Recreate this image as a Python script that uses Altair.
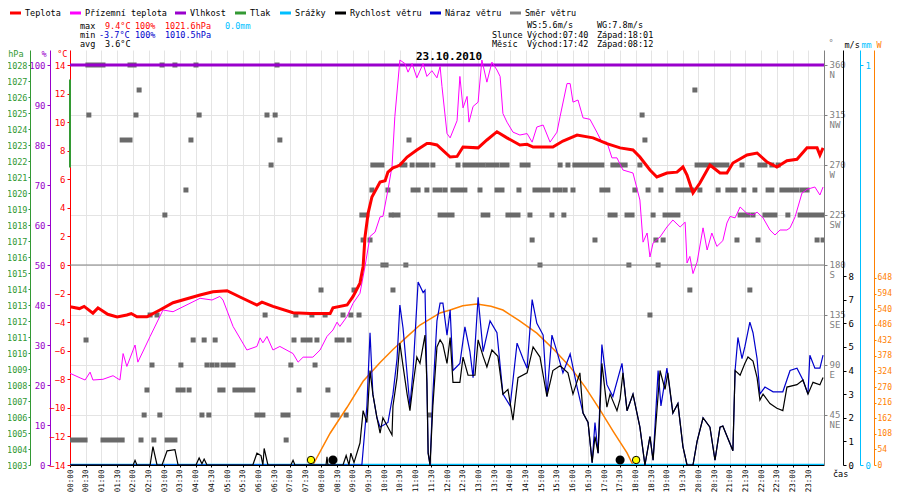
import altair as alt
import pandas as pd

# ---------------- data ----------------
# Temperature (deg C)
temp_h = [0.00, 0.30, 0.45, 0.73, 0.89, 1.20, 1.50, 1.81, 1.95, 2.13, 2.45, 2.86, 3.28, 4.14, 4.55, 5.00,
          5.41, 5.95, 6.11, 6.46, 7.10, 7.64, 8.28, 8.37, 8.82, 9.01, 9.23, 9.33, 9.39, 9.49, 9.61,
          9.87, 10.03, 10.12, 10.28, 10.41, 10.50, 10.73, 11.04, 11.36, 11.46, 11.68, 12.10, 12.32,
          12.51, 12.99, 13.27, 13.59, 13.91, 14.32, 14.55, 14.74, 15.37, 15.69, 16.14, 16.65, 17.09,
          17.51, 17.92, 18.14, 18.46, 18.68, 19.00, 19.32, 19.51, 19.64, 19.83, 20.05, 20.37, 20.69,
          20.91, 21.10, 21.55, 21.87, 22.19, 22.50, 22.82, 23.14, 23.46, 23.78, 23.87, 23.97]
temp_c = [-2.92, -3.05, -2.9, -3.37, -3.0, -3.45, -3.63, -3.5, -3.4, -3.63, -3.63, -3.15, -2.64, -2.1,
          -1.87, -1.8, -2.24, -2.8, -2.6, -2.9, -3.34, -3.4, -3.4, -3.0, -2.8, -2.2, -1.27, -0.1, 1.96,
          3.63, 4.76, 5.8, 5.9, 6.5, 6.8, 6.9, 7.0, 7.56, 8.05, 8.5, 8.5, 8.4, 7.56, 7.6,
          8.26, 8.2, 8.75, 9.33, 8.9, 8.4, 8.45, 8.26, 8.26, 8.68, 9.1, 8.9, 8.5,
          8.2, 8.05, 7.56, 6.65, 6.16, 6.44, 6.5, 6.86, 6.3, 5.04, 5.74, 7.0, 6.44,
          6.44, 7.14, 7.7, 7.84, 7.21, 6.86, 7.3, 7.4, 8.2, 8.2, 7.7, 8.2]

# Apparent (feels-like) temperature (deg C)
feel_h = [0.00, 0.32, 0.48, 0.64, 0.73, 1.05, 1.37, 1.59, 1.69, 1.81, 2.07, 2.16, 2.55, 2.96, 3.28,
          3.82, 4.14, 4.52, 4.77, 4.87, 5.19, 5.63, 5.95, 6.05, 6.14, 6.27, 6.46, 6.68, 7.10, 7.26,
          7.42, 7.73, 7.96, 8.18, 8.37, 8.50, 8.59, 8.82, 9.01, 9.23, 9.39, 9.55, 9.71, 9.87, 9.96,
          10.12, 10.25, 10.34, 10.50, 10.66, 10.76, 10.89, 11.04, 11.24, 11.36, 11.52, 11.68, 11.78,
          11.84, 12.00, 12.10, 12.32, 12.41, 12.51, 12.64, 12.70, 12.83, 12.99, 13.11, 13.27, 13.43,
          13.59, 13.69, 13.78, 13.91, 14.10, 14.32, 14.55, 14.71, 14.86, 15.06, 15.28, 15.50, 15.60,
          15.82, 15.92, 16.01, 16.17, 16.33, 16.55, 16.77, 16.93, 17.09, 17.25, 17.41, 17.60, 17.92,
          18.14, 18.24, 18.37, 18.46, 18.56, 18.78, 19.00, 19.19, 19.42, 19.58, 19.64, 19.73, 19.83,
          19.96, 20.15, 20.28, 20.43, 20.59, 20.78, 20.91, 21.01, 21.17, 21.33, 21.55, 21.74, 21.87,
          22.06, 22.28, 22.44, 22.60, 22.82, 22.92, 23.08, 23.30, 23.46, 23.71, 23.87, 23.97]
feel_c = [-7.58, -7.9, -8.05, -7.5, -8.05, -8.0, -7.75, -8.05, -6.2, -7.1, -5.6, -6.8, -5.0, -3.15, -3.27,
          -2.68, -2.33, -2.45, -2.2, -2.45, -4.3, -5.95, -5.7, -5.1, -5.45, -5.0, -5.95, -5.7, -6.2, -6.8,
          -6.45, -6.45, -5.95, -5.0, -4.55, -4.0, -4.3, -3.6, -2.68, -1.98, -0.1, 2.0, 2.3, 3.37, 3.4,
          5.25, 6.9, 10.4, 14.35, 14.1, 13.5, 14.1, 13.1, 14.1, 13.2, 13.6, 13.1, 13.9,
          12.5, 9.2, 8.9, 10.1, 13.2, 11.0, 11.8, 10.0, 11.1, 11.4, 14.35, 12.8, 14.2,
          13.65, 13.2, 10.6, 10.0, 9.3, 9.1, 9.2, 8.6, 9.66, 9.8, 8.6, 9.3, 10.4,
          12.7, 12.7, 11.4, 11.55, 10.3, 10.2, 9.3, 8.6, 8.6, 7.5, 7.5, 6.65, 6.44,
          4.55, 1.6, 2.24, 0.56, 1.54, 1.96, 2.66, 3.15, 2.66, 3.0, 0.14, 0.6, -0.6,
          0.2, 2.6, 1.05, 2.24, 1.3, 1.7, 2.94, 3.4, 3.3, 4.06, 3.6, 3.5, 3.7,
          3.3, 2.45, 2.1, 2.45, 2.45, 2.6, 3.37, 5.04, 5.3, 5.46, 4.9, 5.46]

# Relative humidity (%)
hum_h = [0.0, 24.0]
hum_v = [100, 100]

# Pressure trace visible on the left edge (hPa)
press_h = [0.0]
press_lo = [1021.6]
press_hi = [1027.1]

# Precipitation (mm)
rain_h = [0.0, 24.0]
rain_mm = [0.0, 0.0]

# Wind speed (m/s)
ws_h = [0.00, 2.01, 2.07, 2.13, 2.55, 2.64, 2.77, 2.93, 3.09, 3.34, 3.44, 4.01, 4.11, 4.20, 4.27, 4.36,
        5.82, 5.95, 6.08, 6.14, 6.18, 6.30, 7.03, 7.10, 7.16, 8.15, 8.18, 8.21, 8.69, 8.79, 8.88, 8.94,
        9.04, 9.23, 9.33, 9.45, 9.55, 9.64, 9.77, 9.87, 9.96, 10.12, 10.25, 10.28, 10.41, 10.50, 10.60,
        10.73, 10.82, 10.92, 11.04, 11.14, 11.30, 11.36, 11.40, 11.46, 11.55, 11.68, 11.78, 11.87, 12.00,
        12.10, 12.19, 12.41, 12.51, 12.67, 12.89, 12.99, 13.15, 13.27, 13.43, 13.62, 13.78, 13.94, 14.10,
        14.26, 14.55, 14.74, 14.96, 15.18, 15.37, 15.60, 15.85, 16.01, 16.23, 16.33, 16.49, 16.62, 16.71,
        16.81, 16.93, 17.09, 17.19, 17.41, 17.51, 17.60, 17.73, 17.92, 18.14, 18.30, 18.46, 18.56, 18.78,
        18.94, 19.03, 19.19, 19.35, 19.51, 19.64, 19.83, 19.96, 20.15, 20.37, 20.53, 20.69, 20.78, 21.01,
        21.10, 21.17, 21.33, 21.48, 21.58, 21.74, 21.87, 21.96, 22.06, 22.28, 22.50, 22.69, 22.82, 23.14,
        23.33, 23.49, 23.65, 23.87, 23.97]
ws_v = [0, 0, 0.2, 0, 0, 0.78, 0, 0, 0.6, 0.65, 0, 0, 0.3, 0.05, 0.25, 0,
        0, 0.5, 0.4, 0, 0.7, 0, 0, 0.2, 0, 0, 0.35, 0, 0, 0.4, 0, 0.5,
        0.1, 0.93, 2.3, 1.8, 4.0, 3.0, 2.0, 1.35, 2.0, 1.6, 1.27, 2.5, 3.7, 5.16, 4.2,
        3.0, 2.3, 3.4, 4.57, 4.3, 5.5, 3.5, 0.5, 0, 2.5, 5.0, 5.3, 5.1, 4.3,
        5.4, 3.5, 3.5, 4.57, 3.8, 3.8, 5.3, 4.6, 4.15, 4.87, 4.6, 3.0, 3.2, 1.9,
        3.7, 3.9, 5.0, 4.57, 2.9, 4.0, 4.2, 3.9, 3.0, 3.9, 2.2, 1.8, 0.1, 1.2,
        0.5, 4.3, 2.45, 3.0, 2.3, 2.8, 3.9, 2.3, 3.0, 1.6, 0, 1.2, 0.2, 4.0,
        3.2, 3.9, 2.2, 2.6, 0.78, 0, 0, 1.0, 2.0, 1.6, 0.2, 1.6, 1.65, 0.9,
        0.6, 4.0, 3.8, 4.3, 4.57, 4.4, 3.7, 2.75, 3.0, 2.6, 2.4, 2.3, 3.3, 3.4,
        3.6, 3.0, 3.5, 3.4, 3.7]

# Wind gust (m/s)
wg_h = [0.00, 9.29, 9.45, 9.55, 9.64, 9.77, 9.87, 10.12, 10.28, 10.41, 10.50, 10.60, 10.82, 10.92,
        11.08, 11.24, 11.30, 11.36, 11.40, 11.46, 11.55, 11.68, 11.78, 11.87, 12.00, 12.10, 12.19,
        12.41, 12.57, 12.73, 12.83, 12.99, 13.15, 13.37, 13.59, 13.78, 14.01, 14.23, 14.42, 14.55,
        14.71, 14.86, 15.06, 15.18, 15.34, 15.50, 15.69, 15.92, 16.14, 16.33, 16.49, 16.62, 16.71,
        16.81, 16.93, 17.09, 17.28, 17.57, 17.73, 17.92, 18.14, 18.30, 18.46, 18.56, 18.72, 18.81,
        19.00, 19.19, 19.35, 19.51, 19.64, 19.83, 19.96, 20.15, 20.37, 20.53, 20.69, 20.78, 21.01,
        21.10, 21.17, 21.26, 21.39, 21.48, 21.64, 21.74, 21.87, 21.96, 22.12, 22.38, 22.69, 22.92,
        23.14, 23.33, 23.49, 23.55, 23.71, 23.87, 23.97]
wg_v = [0, 0, 2.5, 5.6, 3.0, 2.0, 1.6, 1.8, 3.0, 4.5, 6.77, 5.8, 2.5, 4.0,
        7.75, 7.3, 7.4, 3.5, 0.5, 0, 3.0, 6.1, 6.85, 6.85, 5.5, 6.56, 4.0,
        4.3, 5.85, 4.8, 3.7, 7.1, 4.8, 6.1, 5.6, 3.0, 2.5, 5.16, 4.5, 4.1,
        7.0, 6.0, 5.5, 2.9, 5.5, 4.8, 3.9, 4.7, 3.3, 2.2, 1.8, 0.1, 1.8,
        0.5, 5.1, 3.4, 2.9, 4.3, 2.3, 3.0, 1.6, 0, 1.2, 0.2, 4.0, 2.5,
        4.1, 2.2, 2.6, 0.78, 0, 0, 1.0, 2.0, 1.6, 0.2, 1.6, 1.65, 0.9,
        0.6, 4.0, 5.4, 4.5, 5.0, 6.05, 5.6, 4.5, 3.0, 3.3, 3.1, 3.1, 4.0,
        4.1, 3.6, 3.0, 4.65, 4.1, 4.1, 4.65]

# Solar radiation (W/m2)
sol_h = [7.73, 8.28, 8.82, 9.33, 9.87, 10.28, 10.73, 11.14, 11.78, 12.10, 12.50, 12.95, 13.40,
         13.78, 14.30, 14.86, 15.40, 15.92, 16.40, 16.87, 17.30, 17.73, 17.92]
sol_w = [0, 110, 200, 290, 355, 400, 445, 485, 527, 537, 552, 558, 550,
         537, 500, 457, 400, 340, 270, 191, 115, 42, 0]

# Sun rise/set and moon set/rise markers (hours)
sun_h = [7.67, 18.02]
moon_h = [8.37, 17.51]

# Wind direction samples (start hour, end hour, degrees)
wd_start = [0.57, 1.91, 2.93, 3.34, 4.01, 6.59,
            2.20, 19.89,
            0.60, 2.10, 4.11, 6.27, 6.53, 18.21,
            1.66, 3.85, 6.68, 10.79, 18.30,
            6.40, 9.64, 10.57, 10.89, 11.08, 11.55, 12.35, 12.57, 13.30, 13.75, 14.39, 15.60, 15.85,
            16.07, 17.28, 18.14, 19.96, 21.39, 21.96, 22.34, 22.54,
            3.69, 9.61, 10.12, 10.92, 11.36, 11.62, 11.94, 12.19, 13.05, 13.59, 14.29, 14.80, 15.44,
            15.76, 16.01, 16.93, 17.98, 18.40, 18.81, 19.35, 20.05, 20.63, 20.94, 21.45, 21.80, 22.22,
            22.66, 23.30,
            3.02, 9.29, 10.22, 10.34, 11.78, 13.15, 13.94, 14.64, 15.34, 15.72, 17.19, 17.73, 18.56,
            18.94, 21.33, 21.74, 22.12, 22.85, 23.24,
            9.33, 9.55, 14.71, 16.71, 18.65, 18.88, 21.23, 21.90, 23.78, 23.97,
            9.96, 10.69, 14.96, 17.79, 18.72,
            7.99, 9.04, 10.28, 19.73, 21.64,
            2.55, 2.77, 6.21, 7.19, 7.70, 8.12, 8.69, 8.94, 9.20, 18.46,
            0.51, 3.92, 4.27, 4.62, 7.13, 7.42, 7.86, 8.50, 8.88,
            2.61, 3.53, 4.36, 4.52, 4.68, 4.87, 7.03, 7.80,
            2.45, 3.44, 3.79, 4.77, 5.25, 7.29, 8.21,
            2.36, 2.86, 4.20, 4.42, 5.95, 6.78, 8.37, 8.79, 11.46,
            0.05, 1.05, 2.26, 2.67, 3.09, 6.88]
wd_end = [1.05, 2.04, 2.93, 3.34, 4.01, 6.59,
          2.20, 19.89,
          0.60, 2.10, 4.11, 6.27, 6.53, 18.21,
          1.91, 3.85, 6.68, 10.79, 18.30,
          6.40, 9.93, 10.66, 10.89, 11.36, 11.55, 12.35, 13.15, 13.59, 13.91, 14.58, 15.60, 15.85,
          16.93, 17.67, 18.14, 20.91, 21.39, 22.12, 22.34, 22.54,
          3.69, 9.61, 10.12, 11.08, 11.36, 11.78, 11.94, 12.57, 13.05, 13.75, 14.29, 15.21, 15.60,
          15.76, 16.01, 17.12, 17.98, 18.40, 18.81, 19.80, 20.05, 20.63, 21.17, 21.45, 21.80, 22.34,
          23.14, 23.46,
          3.02, 9.45, 10.22, 10.44, 12.16, 13.30, 14.26, 14.64, 15.34, 15.72, 17.35, 17.89, 18.56,
          19.35, 21.58, 21.74, 22.44, 22.85, 23.97,
          9.33, 9.55, 14.71, 16.71, 18.65, 18.88, 21.23, 21.90, 23.78, 23.97,
          10.06, 10.69, 14.96, 17.79, 18.72,
          7.99, 9.04, 10.28, 19.73, 21.64,
          2.55, 2.77, 6.21, 7.19, 7.70, 8.12, 8.69, 8.94, 9.20, 18.46,
          0.51, 3.92, 4.27, 4.62, 7.13, 7.64, 7.86, 8.66, 8.88,
          2.61, 3.53, 4.36, 4.52, 4.68, 5.19, 7.03, 7.80,
          2.45, 3.60, 3.79, 4.87, 5.82, 7.29, 8.21,
          2.36, 2.86, 4.20, 4.42, 6.14, 6.94, 8.50, 8.79, 11.46,
          0.48, 1.66, 2.26, 2.67, 3.34, 6.88]
wd_deg = ([360] * 6 + [337.5] * 2 + [315] * 6 + [292.5] * 5 + [270] * 21 + [247.5] * 28 +
          [225] * 19 + [202.5] * 10 + [180] * 5 + [157.5] * 5 + [135] * 10 + [112.5] * 9 +
          [90] * 8 + [67.5] * 7 + [45] * 9 + [22.5] * 6)

# Tick labels
TIME_LABELS = ["00:00", "00:30", "01:00", "01:30", "02:00", "02:30", "03:00", "03:30",
               "04:00", "04:30", "05:00", "05:30", "06:00", "06:30", "07:00", "07:30",
               "08:00", "08:30", "09:00", "09:30", "10:00", "10:30", "11:00", "11:30",
               "12:00", "12:30", "13:00", "13:30", "14:00", "14:30", "15:00", "15:30",
               "16:00", "16:30", "17:00", "17:30", "18:00", "18:30", "19:00", "19:30",
               "20:00", "20:30", "21:00", "21:30", "22:00", "22:30", "23:00", "23:30"]
DIR_TICKS = [45, 90, 135, 180, 225, 270, 315, 360]
DIR_NAMES = ["NE", "E", "SE", "S", "SW", "W", "NW", "N"]
HPA_TICKS = list(range(1003, 1029))
RH_TICKS = list(range(0, 101, 10))
T_TICKS = list(range(-14, 15, 2))
WS_TICKS = list(range(0, 9))
MM_TICKS = [0, 1]
SOL_TICKS = [0, 54, 108, 162, 216, 270, 324, 378, 432, 486, 540, 594, 648]

# ---------------- styling ----------------
MONO = "DejaVu Sans Mono"
PW, PH = 754, 415
OX, OY = 70, 50  # page position of the plot origin
RED, MAG, PUR, GRN = "#ff0000", "#ff00ff", "#9900cc", "#339933"
CYA, BLK, BLU, GRY, ORG = "#00bfff", "#000000", "#0000cc", "#808080", "#ff8000"

T_DOM = [-14, 15.05]
RH_DOM = [0, 103.75]
P_DOM = [1003, 1028.94]
WD_DOM = [0, 373.5]
WS_DOM = [0, 17.57]
MM_DOM = [0, 1.0375]
SOL_DOM = [0, 1438]

time_expr = "[" + ",".join("'%s'" % s for s in TIME_LABELS) + "][round(datum.value*2)]"
dir_expr = "[datum.label, " + "".join(
    "datum.value==%d?'%s':" % (v, n) for v, n in zip(DIR_TICKS, DIR_NAMES)) + "'']"

xaxis = alt.Axis(values=[i * 0.5 for i in range(len(TIME_LABELS))], labelExpr=time_expr,
                 labelAngle=270, labelFont=MONO, labelFontSize=7.6, labelColor=BLK,
                 labelPadding=2, labelOverlap=False, labelFlush=False, grid=True,
                 gridColor="#e4e4e4", domainColor=BLK, tickColor=BLK, tickSize=2, title=None)


def X(field="h", axis=None):
    return alt.X(f"{field}:Q", scale=alt.Scale(domain=[0, 24], nice=False, zero=False), axis=axis)


def S(dom):
    return alt.Scale(domain=dom, nice=False, zero=False)


def yaxis(orient, offset, color, values, title, tx, ty, talign, fs=9, tick=3, pad=2, **kw):
    return alt.Axis(orient=orient, offset=offset, values=values, title=title,
                    domainColor=color, tickColor=color, labelColor=color, titleColor=color,
                    labelFont=MONO, labelFontSize=fs, titleFont=MONO, titleFontSize=8.5,
                    titleFontWeight="normal", titleAngle=0, titleAlign=talign,
                    titleBaseline="middle", titleX=tx, titleY=ty, tickSize=tick,
                    labelPadding=pad, format="d", **kw)


df_t = pd.DataFrame({"h": temp_h, "v": temp_c})
df_f = pd.DataFrame({"h": feel_h, "v": feel_c})
df_rh = pd.DataFrame({"h": hum_h, "v": hum_v})
df_p = pd.DataFrame({"h": press_h, "lo": press_lo, "hi": press_hi})
df_r = pd.DataFrame({"h": rain_h, "v": rain_mm})
df_ws = pd.DataFrame({"h": ws_h, "v": ws_v})
df_wg = pd.DataFrame({"h": wg_h, "v": wg_v})
df_sol = pd.DataFrame({"h": sol_h, "v": sol_w})
df_sun = pd.DataFrame({"h": sun_h, "v": [0] * len(sun_h)})
df_moon = pd.DataFrame({"h": moon_h, "v": [0] * len(moon_h)})
df_wd = pd.DataFrame({"h": wd_start, "h2": wd_end, "v": wd_deg})
df_zero = pd.DataFrame({"v": [0]})

# wind direction squares (with its axis and horizontal grid)
wd_layer = alt.Chart(df_wd).mark_rule(color="#6a6a6a", strokeWidth=5, xOffset=-2.5,
                                      x2Offset=2.5, clip=True).encode(
    x=X(), x2="h2:Q",
    y=alt.Y("v:Q", scale=S(WD_DOM),
            axis=yaxis("right", 0, GRY, DIR_TICKS, "°", 4, -8, "left", labelExpr=dir_expr,
                       labelBaseline="top", labelOffset=-5, labelLineHeight=10, labelAlign="left",
                       grid=True, gridColor="#e4e4e4")))

zero_layer = alt.Chart(df_zero).mark_rule(color=GRY, strokeWidth=1).encode(
    y=alt.Y("v:Q", scale=S(T_DOM), axis=None))

sol_layer = alt.Chart(df_sol).mark_line(color=ORG, strokeWidth=1.5, clip=True).encode(
    x=X(), y=alt.Y("v:Q", scale=S(SOL_DOM),
                   axis=yaxis("right", 50, ORG, SOL_TICKS, "W", 2, -6, "left",
                              fs=8, tick=2, pad=1)))

rain_layer = alt.Chart(df_r).mark_line(color=CYA, strokeWidth=2.5, clip=True).encode(
    x=X(), y=alt.Y("v:Q", scale=S(MM_DOM),
                   axis=yaxis("right", 36, CYA, MM_TICKS, "mm", 1, -6, "left")))

wg_layer = alt.Chart(df_wg).mark_line(color=BLU, strokeWidth=1.2, clip=True).encode(
    x=X(), y=alt.Y("v:Q", scale=S(WS_DOM), axis=None))

ws_layer = alt.Chart(df_ws).mark_line(color=BLK, strokeWidth=1.2, clip=True).encode(
    x=X(), y=alt.Y("v:Q", scale=S(WS_DOM),
                   axis=yaxis("right", 19, BLK, WS_TICKS, "m/s", 1, -6, "left")))

rh_layer = alt.Chart(df_rh).mark_line(color=PUR, strokeWidth=3, clip=True).encode(
    x=X(), y=alt.Y("v:Q", scale=S(RH_DOM),
                   axis=yaxis("left", 20, PUR, RH_TICKS, "%", -4, 3, "right")))

feel_layer = alt.Chart(df_f).mark_line(color=MAG, strokeWidth=1, clip=True).encode(
    x=X(), y=alt.Y("v:Q", scale=S(T_DOM), axis=None))

temp_layer = alt.Chart(df_t).mark_line(color=RED, strokeWidth=3, clip=True).encode(
    x=X(axis=xaxis), y=alt.Y("v:Q", scale=S(T_DOM),
                             axis=yaxis("left", 0, RED, T_TICKS, "°C", -3, 3, "right")))

p_layer = alt.Chart(df_p).mark_rule(color=GRN, strokeWidth=2).encode(
    x=X(), y=alt.Y("lo:Q", scale=S(P_DOM),
                   axis=yaxis("left", 40, GRN, HPA_TICKS, "hPa", -7, 3, "right",
                              fs=8.5, tick=2, pad=1)),
    y2="hi:Q")

sun_layer = alt.Chart(df_sun).mark_point(shape="circle", filled=True, fill="#ffff00",
                                         stroke=BLK, strokeWidth=1, size=55, opacity=1,
                                         yOffset=-5).encode(
    x=X(), y=alt.Y("v:Q", scale=S(SOL_DOM), axis=None))
moon_layer = alt.Chart(df_moon).mark_point(shape="circle", filled=True, fill=BLK, stroke=BLK,
                                           size=50, opacity=1, yOffset=-5).encode(
    x=X(), y=alt.Y("v:Q", scale=S(SOL_DOM), axis=None))

# ---------------- header texts / legend ----------------
LEG_Y = 13
leg_names = ["Teplota", "Přízemní teplota", "Vlhkost", "Tlak", "Srážky",
             "Rychlost větru", "Náraz větru", "Směr větru"]
leg_colors = [RED, MAG, PUR, GRN, CYA, BLK, BLU, GRY]
leg_x = [10, 70, 175, 235, 280, 335, 430, 510]
df_leg = pd.DataFrame({"x1": [v - OX for v in leg_x], "x2": [v + 11 - OX for v in leg_x],
                       "y": [LEG_Y - OY] * 8, "c": leg_colors})
leg_lines = alt.Chart(df_leg).mark_rule(strokeWidth=3).encode(
    x=alt.X("x1:Q", scale=None, axis=None), x2="x2:Q",
    y=alt.Y("y:Q", scale=None, axis=None), color=alt.Color("c:N", scale=None))

txt_rows = [(n, x + 15, LEG_Y, BLK) for n, x in zip(leg_names, leg_x)] + [
    ("max", 80, 26, BLK), ("9.4°C", 105, 26, RED), ("100%", 135, 26, RED),
    ("1021.6hPa", 165, 26, RED), ("0.0mm", 225, 26, CYA),
    ("min", 80, 35, BLK), ("-3.7°C", 99, 35, BLU), ("100%", 135, 35, BLU),
    ("1010.5hPa", 165, 35, BLU),
    ("avg", 80, 44, BLK), ("3.6°C", 105, 44, BLK),
    ("WS:5.6m/s", 527, 25, BLK), ("WG:7.8m/s", 597, 25, BLK),
    ("Slunce", 492, 35, BLK), ("Východ:07:40", 527, 35, BLK), ("Západ:18:01", 597, 35, BLK),
    ("Měsíc", 492, 44, BLK), ("Východ:17:42", 527, 44, BLK), ("Západ:08:12", 597, 44, BLK),
    ("čas", 833, 474, BLK),
]
df_txt = pd.DataFrame({"t": [r[0] for r in txt_rows], "x": [r[1] - OX for r in txt_rows],
                       "y": [r[2] - OY for r in txt_rows], "c": [r[3] for r in txt_rows]})
texts = alt.Chart(df_txt).mark_text(font=MONO, fontSize=8.5, align="left",
                                    baseline="middle").encode(
    x=alt.X("x:Q", scale=None, axis=None), y=alt.Y("y:Q", scale=None, axis=None),
    text="t:N", color=alt.Color("c:N", scale=None))

df_title = pd.DataFrame({"t": ["23.10.2010"], "x": [449 - OX], "y": [57 - OY]})
title_mark = alt.Chart(df_title).mark_text(font=MONO, fontSize=11, fontWeight="bold",
                                           align="center", baseline="middle",
                                           color=BLK).encode(
    x=alt.X("x:Q", scale=None, axis=None), y=alt.Y("y:Q", scale=None, axis=None), text="t:N")

chart = alt.layer(
    wd_layer, zero_layer, sol_layer, rain_layer, wg_layer, ws_layer, rh_layer,
    feel_layer, temp_layer, p_layer, sun_layer, moon_layer, leg_lines, texts, title_mark
).resolve_scale(x="independent", y="independent", color="independent").properties(
    width=PW, height=PH, autosize="none",
    padding={"left": OX - 8, "top": OY - 8, "right": 68, "bottom": 27},
    background="white"
).configure_view(strokeWidth=0)

chart.save("out.html", embed_options={"renderer": "svg", "actions": False})
